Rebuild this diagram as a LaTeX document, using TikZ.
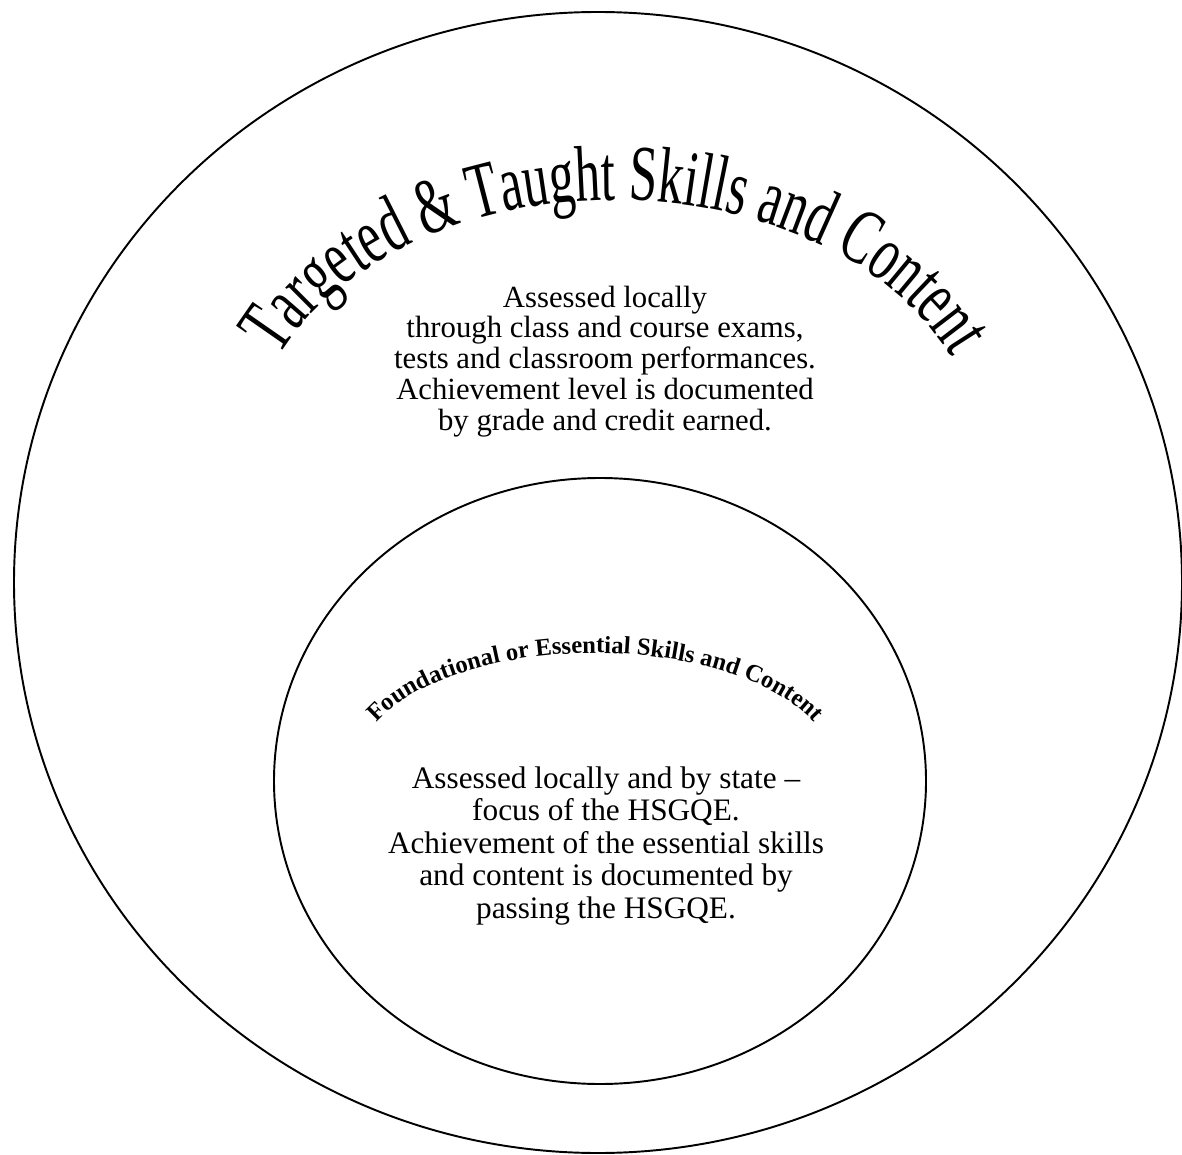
\documentclass[tikz,border=0pt]{standalone}
\usepackage{fontspec}
\setmainfont{Liberation Serif}
\newfontfamily\archfont[FakeStretch=0.64]{Liberation Serif}
\newcommand{\bigarch}{\archfont\fontsize{45}{45}\selectfont}
\newcommand{\smallarch}{\bfseries\fontsize{14}{14}\selectfont}
\usetikzlibrary{positioning,calc,decorations.text}

\begin{document}
\begin{tikzpicture}
		[x=0.02cm, y=0.02cm,
		ring/.style={draw, line width=1.1pt},
		blurb/.style={align=center, font=\fontsize{17.5}{17.6}\selectfont}]
		\useasboundingbox (0,0) rectangle (1182,1154);
		\coordinate (outer) at (598,571.5);
		\coordinate (inner) at (600,373);
		\coordinate (outerarc) at (615,697);
		\coordinate (innerarc) at (595,386);

		% the two rings
		\draw[ring] (outer) ellipse [x radius=584, y radius=570.5];
		\draw[ring] (inner) ellipse [x radius=326, y radius=303];

		% arched titles
		\path[decorate, decoration={text along path, text align=center,
			text={|\bigarch|Targeted {\&} Taught Skills and Content}}]
			($(outerarc)+(-365,0)$) arc [start angle=180, end angle=0, x radius=365, y radius=257];
		\path[decorate, decoration={text along path, text align=center,
			text={|\smallarch|Foundational or Essential Skills and Content}}]
			($(innerarc)+(-238,0)$) arc [start angle=180, end angle=0, x radius=238, y radius=115];

		\node[blurb] (localtext) at (605,792.5) {Assessed locally\\through class and course exams,\\tests and classroom performances.\\Achievement level is documented\\by grade and credit earned.};
		\node[blurb, font=\fontsize{17.8}{18.5}\selectfont] (statetext) at (606,308) {Assessed locally and by state --\\focus of the HSGQE.\\Achievement of the essential skills\\and content is documented by\\passing the HSGQE.};
	\end{tikzpicture}
\end{document}
